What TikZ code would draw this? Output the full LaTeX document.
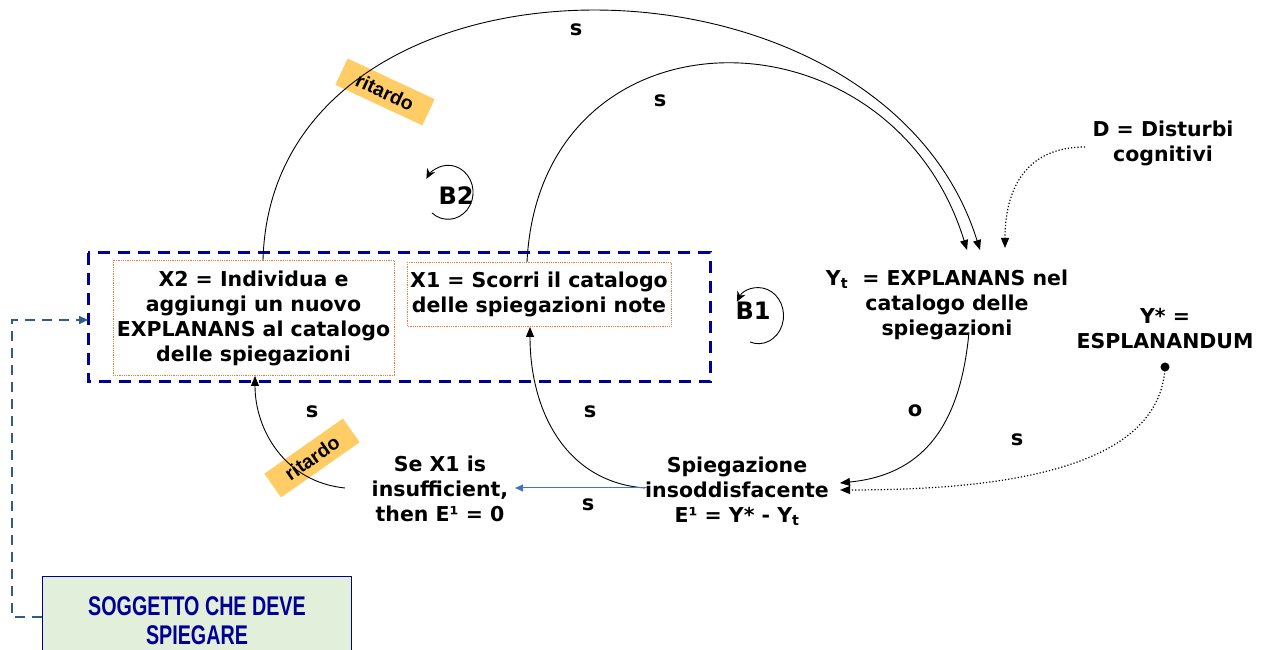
\documentclass[tikz,border=0pt]{standalone}
\usepackage{fontspec}
\setmainfont{DejaVu Sans}
\newfontfamily\arialf{Liberation Sans}
\usetikzlibrary{arrows.meta}
\definecolor{navyb}{HTML}{000099}
\definecolor{orangedot}{HTML}{ED7D31}
\definecolor{tagfill}{HTML}{FFCC66}
\definecolor{blueline}{HTML}{4472C4}
\definecolor{steel}{HTML}{2F5C8A}
\definecolor{soggfill}{HTML}{E2EFDA}
\tikzset{
  lbl/.style={font=\bfseries\fontsize{20.5}{25}\selectfont, align=center, inner sep=0pt},
  slbl/.style={font=\bfseries\fontsize{21}{22}\selectfont, inner sep=0pt},
  tag/.style={fill=tagfill, font=\arialf\bfseries\fontsize{19.5}{20}\selectfont, minimum width=96pt, minimum height=29pt, inner sep=0pt},
  conn/.style={line width=0.9pt, -{Triangle[length=10pt,width=8pt]}},
  dotconn/.style={line width=1.2pt, dotted, -{Triangle[length=10pt,width=8pt]}},
  varbox/.style={draw=orangedot, densely dotted, line width=0.8pt},
  loopar/.style={line width=0.9pt, -{Stealth[length=10pt,width=9pt]}}
}
\begin{document}
\begin{tikzpicture}[x=1pt,y=1pt]
\useasboundingbox (0,0) rectangle (1264,650);
% tags (under lines)
\node[tag, rotate=-25] (tag1) at (385,558) {ritardo};
\node[tag, rotate=35] (tag2) at (312,192) {ritardo};
% boxes
\draw[navyb, line width=3pt, dash pattern=on 12pt off 8pt] (88,397) rectangle (710,268);
\draw[varbox] (113,390) rectangle (394,275);
\draw[varbox] (407,388) rectangle (671,324);
\node[lbl] (x2) at (253.5,332) {X2 = Individua e\\aggiungi un nuovo\\EXPLANANS al catalogo\\delle spiegazioni};
\node[lbl] (x1) at (539,356) {X1 = Scorri il catalogo\\delle spiegazioni note};
\node[lbl] (yt) at (947,345) {Y\textsubscript{t}\ \ = EXPLANANS nel\\catalogo delle\\spiegazioni};
\node[lbl] (ys) at (1165,321) {Y* =\\ESPLANANDUM};
\node[lbl] (d) at (1163,507) {D = Disturbi\\cognitivi};
\node[lbl] (sp) at (737,159) {Spiegazione\\insoddisfacente\\E¹ = Y* - Y\textsubscript{t}};
\node[lbl] (se) at (440,161) {Se X1 is\\insufficient,\\then E¹ = 0};
\node[font=\bfseries\fontsize{24}{24}\selectfont] (b1) at (753,339) {B1};
\node[font=\bfseries\fontsize{24}{24}\selectfont] (b2) at (456,454) {B2};
\fill (1165,283) circle (4.5pt) coordinate (ydot);
% soggetto
\draw[navyb, fill=soggfill, line width=1pt] (42,73) rectangle (351,-5);
\node[font=\arialf\bfseries\fontsize{27}{29}\selectfont, text=navyb, align=center] (sogg) at (197,29) {\scalebox{0.73}[1]{SOGGETTO CHE DEVE}\\\scalebox{0.73}[1]{SPIEGARE}};
% coordinates
\coordinate (x2top) at (263,390);
\coordinate (x1top) at (527,388);
\coordinate (ytin1) at (967,400);
\coordinate (ytin2) at (980,400);
\coordinate (ytin3) at (1005,402);
\coordinate (dout) at (1085,503);
\coordinate (ytout) at (969,318);
\coordinate (spin1) at (840,167);
\coordinate (spin2) at (840,160);
\coordinate (spout) at (645,162);
\coordinate (spout2) at (647,162);
\coordinate (x1bot) at (530,323);
\coordinate (sein) at (515,162);
\coordinate (seout) at (345,162);
\coordinate (x2bot) at (255,274);
\coordinate (sogl) at (42,33);
\coordinate (boxl) at (88,330);
% connectors
\draw[conn] (x2top) .. controls (272,720) and (880,720) .. (ytin2);
\draw[conn] (x1top) .. controls (540,650) and (890,650) .. (ytin1);
\draw[dotconn] (dout) .. controls (1025,503) and (1005,460) .. (ytin3);
\draw[conn] (ytout) .. controls (960,220) and (920,175) .. (spin1);
\draw[dotconn] (ydot) .. controls (1160,180) and (1000,160) .. (spin2);
\draw[conn] (spout) .. controls (565,168) and (530,240) .. (x1bot);
\draw[blueline, line width=1pt, -{Triangle[length=8pt,width=7pt]}] (spout2) -- (sein);
\draw[conn] (seout) .. controls (285,168) and (255,220) .. (x2bot);
\draw[steel, line width=2pt, dash pattern=on 10pt off 7pt, -{Triangle[length=9pt,width=8pt]}] (sogl) -- (12,33) -- (12,330) -- (boxl);
% loops
\draw[loopar] (750,308) arc[start angle=-110, end angle=150, x radius=25pt, y radius=28pt];
\draw[loopar] (432,437) arc[start angle=-130, end angle=150, x radius=25pt, y radius=27pt];
% labels
\node[slbl] (s1) at (576,620) {s};
\node[slbl] (s2) at (660,549) {s};
\node[slbl] (s3) at (312,238) {s};
\node[slbl] (s4) at (590,238) {s};
\node[slbl] (s5) at (588,145) {s};
\node[slbl] (o1) at (915,239) {o};
\node[slbl] (s6) at (1017,210) {s};
\end{tikzpicture}
\end{document}
